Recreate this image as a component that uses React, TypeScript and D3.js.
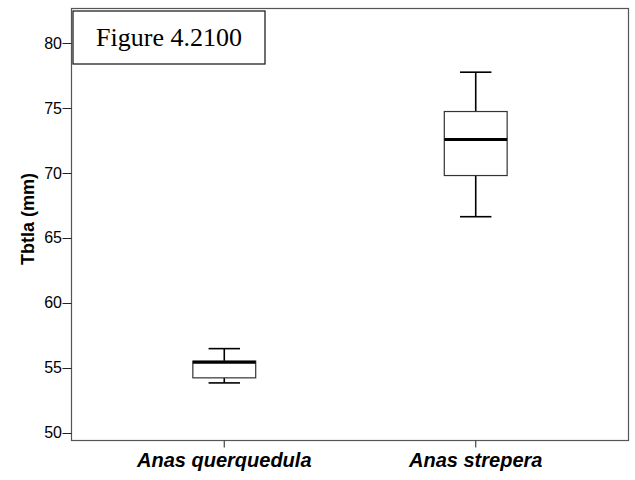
import React from "react";
import * as d3 from "d3";

const categories = ["Anas querquedula", "Anas strepera"];
const whiskerLow = [53.82, 66.62];
const q1 = [54.21, 69.79];
const median = [55.42, 72.56];
const q3 = [55.5, 74.72];
const whiskerHigh = [56.46, 77.75];
const yTicks = [50, 55, 60, 65, 70, 75, 80];
const yLabel = "Tbtla (mm)";
const figureLabel = "Figure 4.2100";

const W = 635;
const H = 480;
const left = 71.5;
const right = 628.5;
const top = 8.5;
const bottom = 440.5;

export default function App() {
  const x = d3.scalePoint<string>().domain(categories).range([left, right]).padding(0.6076);
  const y = d3.scaleLinear().domain([49.385, 82.654]).range([bottom, top]);
  const step = x.step();
  const boxW = step * 0.25;
  const capW = boxW / 2;
  const sans = "'Liberation Sans', Arial, sans-serif";
  const frameColor = "#555";

  return (
    <svg width={W} height={H} style={{ position: "absolute", left: 0, top: 0, background: "#fff" }}>
      <rect x={0} y={0} width={W} height={H} fill="#fff" />
      {/* frame */}
      <rect x={left} y={top} width={right - left} height={bottom - top} fill="none" stroke={frameColor} strokeWidth={1.2} />
      {/* y ticks */}
      {yTicks.map((t) => (
        <g key={t}>
          <line x1={left - 9} x2={left} y1={Math.round(y(t)) + 0.5} y2={Math.round(y(t)) + 0.5} stroke="#222" strokeWidth={1} />
          <text x={left - 9.5} y={y(t)} dy="0.36em" textAnchor="end" fontFamily={sans} fontSize={16} fill="#000">
            {t}
          </text>
        </g>
      ))}
      {/* x ticks and labels */}
      {categories.map((c) => (
        <g key={c}>
          <line x1={x(c)!} x2={x(c)!} y1={bottom} y2={bottom + 7} stroke="#444" strokeWidth={1.2} />
          <text x={x(c)!} y={467} textAnchor="middle" fontFamily={sans} fontSize={20} fontWeight="bold" fontStyle="italic" fill="#000">
            {c}
          </text>
        </g>
      ))}
      {/* y label */}
      <text
        transform={`translate(33.5, 219) rotate(-90)`}
        textAnchor="middle"
        fontFamily={sans}
        fontSize={18}
        fontWeight="bold"
        fill="#000"
      >
        {yLabel}
      </text>
      {/* boxes */}
      {categories.map((c, i) => {
        const cx = x(c)!;
        return (
          <g key={c}>
            <line x1={cx} x2={cx} y1={y(whiskerHigh[i])} y2={y(q3[i])} stroke="#000" strokeWidth={1.6} />
            <line x1={cx} x2={cx} y1={y(q1[i])} y2={y(whiskerLow[i])} stroke="#000" strokeWidth={1.6} />
            <line x1={cx - capW / 2} x2={cx + capW / 2} y1={y(whiskerHigh[i])} y2={y(whiskerHigh[i])} stroke="#000" strokeWidth={1.6} />
            <line x1={cx - capW / 2} x2={cx + capW / 2} y1={y(whiskerLow[i])} y2={y(whiskerLow[i])} stroke="#000" strokeWidth={1.6} />
            <rect x={cx - boxW / 2} y={y(q3[i])} width={boxW} height={y(q1[i]) - y(q3[i])} fill="#fff" stroke="#333" strokeWidth={1.2} />
            <line x1={cx - boxW / 2} x2={cx + boxW / 2} y1={y(median[i])} y2={y(median[i])} stroke="#000" strokeWidth={3} />
          </g>
        );
      })}
      {/* figure label box */}
      <rect x={73} y={11} width={192} height={53} fill="#fff" stroke="#222" strokeWidth={1.3} />
      <text x={169} y={46} textAnchor="middle" fontFamily="'Liberation Serif', 'Times New Roman', serif" fontSize={26} fill="#000">
        {figureLabel}
      </text>
    </svg>
  );
}
